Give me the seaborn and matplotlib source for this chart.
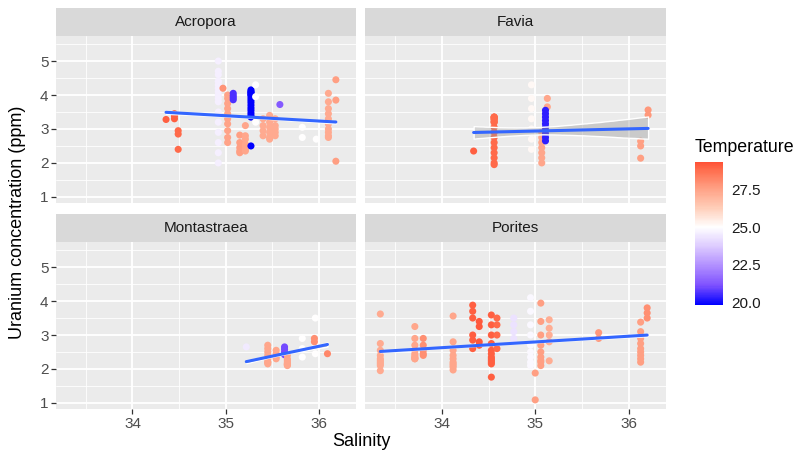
import numpy as np
import pandas as pd
import matplotlib
matplotlib.use("Agg")
import matplotlib.pyplot as plt
import seaborn as sns
from matplotlib.colors import LinearSegmentedColormap, Normalize
from matplotlib.patches import Rectangle
from matplotlib.ticker import MultipleLocator
from matplotlib.cm import ScalarMappable

# данные: (солёность, температура, значения урана) для каждой колонки точек
acropora = [
    (34.36, 29.1, [3.28]),
    (34.45, 29.1, [3.30, 3.38, 3.45]),
    (34.49, 28.9, [2.95, 2.85, 2.40]),
    (34.92, 24.6, [2.0, 2.3, 2.6, 2.9, 3.2, 3.5, 3.8, 4.1, 4.4, 4.7, 5.0,
                   4.2, 4.0, 4.6, 4.3, 3.9, 4.4]),
    (34.97, 27.9, [4.2]),
    (35.02, 27.5, [4.0, 3.9, 3.75, 3.6, 3.45, 3.3, 3.15, 2.95, 2.75, 2.6]),
    (35.08, 20.6, [4.05, 3.98, 3.92, 3.86]),
    (35.15, 27.6, [2.82, 2.35, 2.30, 2.45, 2.6]),
    (35.21, 27.4, [2.35, 2.8, 3.1, 2.4, 2.5, 2.7, 2.55]),
    (35.27, 19.8, [4.15, 4.08, 4.0, 3.92, 3.85, 3.78, 3.7, 3.62, 3.55,
                   3.47, 3.4, 3.35, 2.5, 4.1, 4.05, 4.0]),
    (35.32, 25.0, [4.3, 3.95, 3.2]),
    (35.40, 27.3, [3.3, 3.1, 2.95, 2.8]),
    (35.47, 27.3, [3.4, 3.2, 3.05, 2.9, 2.75, 2.7]),
    (35.53, 27.3, [3.3, 3.1, 3.0, 2.9, 2.8]),
    (35.58, 21.3, [3.72]),
    (35.82, 25.0, [3.05, 2.75]),
    (35.97, 25.0, [2.7]),
    (36.10, 27.3, [4.05, 3.8, 3.6, 3.45, 3.3, 3.15, 3.0, 2.9, 2.8, 2.75]),
    (36.18, 27.6, [4.45, 3.85, 2.05]),
]
favia = [
    (34.34, 29.1, [2.35]),
    (34.56, 28.9, [3.35, 3.2, 3.05, 2.9, 2.75, 2.6, 2.45, 2.3, 2.15, 2.0,
                   1.95, 3.35, 3.3, 3.25, 3.2, 3.35, 3.3]),
    (34.96, 25.2, [4.3, 3.9, 3.6, 3.3, 3.0, 2.7, 2.4]),
    (35.07, 27.4, [2.9, 2.75, 2.6, 2.45, 2.3, 2.15, 2.0]),
    (35.13, 27.4, [3.9, 3.65]),
    (35.11, 20.3, [3.55, 3.45, 3.35, 3.25, 3.15, 3.05, 2.95, 2.85, 2.75, 2.65]),
    (36.21, 27.8, [3.56, 3.41]),
    (36.13, 27.6, [2.64, 2.5, 2.14]),
]
montastraea = [
    (35.22, 24.5, [2.65]),
    (35.45, 27.4, [2.7, 2.6, 2.5, 2.4, 2.3, 2.2, 2.15, 2.2]),
    (35.54, 27.4, [2.55, 2.45, 2.35, 2.3]),
    (35.63, 21.0, [2.65, 2.58, 2.5, 2.42]),
    (35.66, 27.4, [2.4, 2.3, 2.25, 2.2, 2.15, 2.12, 2.1, 2.15]),
    (35.82, 25.0, [2.9, 2.6, 2.35]),
    (35.96, 25.0, [3.5, 2.75, 2.45]),
    (35.95, 28.0, [2.9, 2.8]),
    (36.09, 28.2, [2.45]),
]
porites = [
    (33.34, 27.3, [3.62, 2.75, 2.55, 2.4, 2.3, 2.2, 2.1, 1.95, 2.25, 2.15]),
    (33.71, 27.4, [3.25, 2.9, 2.7, 2.55, 2.45, 2.4, 2.35, 2.32, 2.3, 2.3]),
    (33.80, 28.0, [2.9, 2.7, 2.55, 2.45, 2.4]),
    (34.12, 27.4, [3.56, 2.8, 2.55, 2.4, 2.3, 2.2, 2.15, 2.1, 2.05, 1.97]),
    (34.33, 29.1, [3.88, 3.7, 3.5, 3.0, 2.85, 2.6]),
    (34.40, 29.2, [3.4, 3.25, 2.8, 2.7]),
    (34.53, 29.1, [3.59, 3.3, 3.0, 2.75, 2.55, 2.45, 2.35, 2.3, 2.25, 2.2,
                   2.15, 1.76]),
    (34.59, 28.9, [3.5, 3.3, 3.0, 2.6]),
    (34.77, 24.3, [3.5, 3.3, 3.1, 2.9, 2.8]),
    (34.95, 24.8, [4.1, 3.7, 3.3, 3.0, 2.7, 2.5, 2.35, 2.2, 2.1]),
    (35.00, 27.6, [1.88, 1.09]),
    (35.06, 27.6, [3.94, 3.4, 3.0, 2.7, 2.5, 2.35, 2.25, 2.2, 2.1]),
    (35.15, 27.2, [3.45, 3.2, 3.0, 2.8, 2.24]),
    (35.68, 27.8, [3.07, 2.9]),
    (36.13, 27.6, [3.38, 3.1, 2.9, 2.75, 2.6, 2.5, 2.4, 2.3, 2.2]),
    (36.20, 28.0, [3.8, 3.65, 3.5]),
]
genera = ["Acropora", "Favia", "Montastraea", "Porites"]
band_level = [20, 85, 30, 20]
temp_ticks = [20.0, 22.5, 25.0, 27.5]

rows = []
for name, clusters in zip(genera, [acropora, favia, montastraea, porites]):
    for sal, temp, values in clusters:
        for u in values:
            rows.append((name, sal, temp, u))
df = pd.DataFrame(rows, columns=["Genus", "Salinity", "Temperature", "Uranium"])

# палитра blue - white - red (как scale_colour_gradient2)
cmap = LinearSegmentedColormap.from_list("bwr_gg", [
    (0.0, "#0000FF"), (0.125, "#7E51FF"), (0.25, "#B08EFF"), (0.375, "#DCCAFF"),
    (0.5, "#FFFFFF"), (0.625, "#FFCDB8"), (0.75, "#FFA084"), (0.875, "#FF6A4A"),
    (1.0, "#FF2010")])
norm = Normalize(vmin=19.8, vmax=30.2)

sns.set_theme(style="darkgrid", rc={"axes.facecolor": "#EBEBEB", "grid.color": "white"})
plt.rcParams["font.family"] = ["Liberation Sans", "DejaVu Sans"]

fig, axes = plt.subplots(2, 2, figsize=(8.11, 4.55), dpi=100, sharex=True, sharey=True)
fig.subplots_adjust(left=0.069, right=0.821, top=0.921, bottom=0.101,
                    wspace=0.03, hspace=0.2335)

for i, (ax, name) in enumerate(zip(axes.flat, genera)):
    sub = df[df["Genus"] == name]
    sns.scatterplot(data=sub, x="Salinity", y="Uranium", hue="Temperature",
                    palette=cmap, hue_norm=norm, s=26, linewidth=0,
                    legend=False, ax=ax)
    sns.regplot(data=sub, x="Salinity", y="Uranium", scatter=False,
                ci=band_level[i], seed=0, color="#3366FF",
                line_kws=dict(lw=2.2), ax=ax)
    # серая полоса доверительного интервала
    ax.collections[-1].set_facecolor((0.6, 0.6, 0.6, 0.4))
    ax.collections[-1].set_alpha(None)
    ax.set_xlabel("")
    ax.set_ylabel("")
    ax.set_xlim(33.18, 36.40)
    ax.set_ylim(0.82, 5.74)
    ax.xaxis.set_major_locator(MultipleLocator(1))
    ax.yaxis.set_major_locator(MultipleLocator(1))
    ax.xaxis.set_minor_locator(MultipleLocator(0.5))
    ax.yaxis.set_minor_locator(MultipleLocator(0.5))
    ax.grid(which="major", color="white", lw=1.3)
    ax.grid(which="minor", color="white", lw=0.6)
    ax.set_axisbelow(True)
    for sp in ax.spines.values():
        sp.set_visible(False)
    ax.tick_params(which="major", length=3.4, width=0.9, color="#333333",
                   labelcolor="#4D4D4D", labelsize=11, pad=2,
                   bottom=(i >= 2), left=(i % 2 == 0))
    ax.tick_params(which="minor", length=0)
    # полоска с названием рода
    h = 28 / (ax.get_position().height * 455)
    ax.add_patch(Rectangle((0, 1), 1, h, transform=ax.transAxes, clip_on=False,
                           facecolor="#D9D9D9", edgecolor="none"))
    ax.text(0.5, 1 + h / 2, name, transform=ax.transAxes, ha="center",
            va="center", fontsize=11, color="#1A1A1A")

fig.text(0.022, 0.512, "Uranium concentration (ppm)", rotation=90,
         ha="center", va="center", fontsize=13, color="black")
fig.text(0.445, 0.029, "Salinity", ha="center", va="center", fontsize=13,
         color="black")

# цветовая шкала
cax = fig.add_axes([695 / 811, 1 - 305 / 455, 28 / 811, 143 / 455])
sm = ScalarMappable(norm=norm, cmap=cmap)
cb = fig.colorbar(sm, cax=cax, boundaries=np.linspace(19.8, 29.35, 256),
                  ticks=temp_ticks)
cb.outline.set_visible(False)
cb.ax.set_yticklabels([f"{t:.1f}" for t in temp_ticks])
cb.ax.tick_params(direction="in", color="white", length=5.5, width=0.8,
                  left=True, right=True, labelsize=11, labelcolor="#1A1A1A", pad=6)
cb.ax.grid(False)
fig.text(695 / 811, 1 - 147 / 455, "Temperature", ha="left", va="center",
         fontsize=12.8, color="black")

fig.savefig("out.png", dpi=100)
